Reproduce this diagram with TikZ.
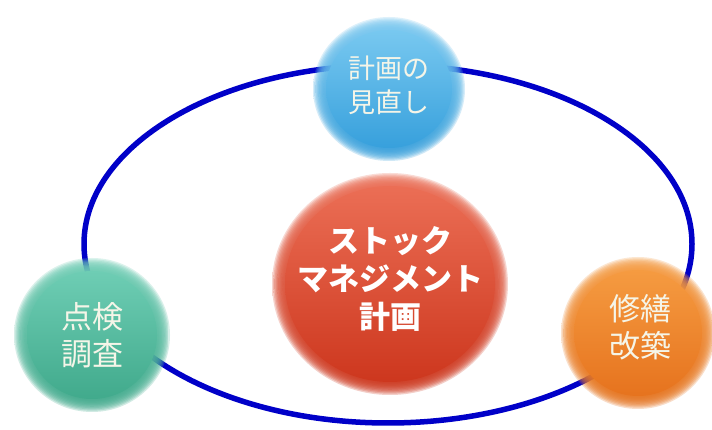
\documentclass[tikz,border=0pt]{standalone}
\usepackage{fontspec}
\newfontfamily\jp{Noto Sans CJK JP}
\definecolor{ringblue}{RGB}{0,0,200}
\definecolor{skyA}{RGB}{120,200,240}
\definecolor{skyB}{RGB}{55,160,220}
\definecolor{redA}{RGB}{235,110,85}
\definecolor{redB}{RGB}{205,55,30}
\definecolor{greenA}{RGB}{110,205,180}
\definecolor{greenB}{RGB}{65,170,140}
\definecolor{orangeA}{RGB}{245,155,65}
\definecolor{orangeB}{RGB}{230,115,30}
\definecolor{txtlight}{RGB}{245,245,232}
\tikzset{
  lbl/.style={align=center, text=txtlight, inner sep=0pt}
}
% soft-edged ball: center, x radius, y radius, top colour, bottom colour
\newcommand{\softball}[5]{%
  \foreach \k in {0,...,9} {%
    \shade[top color=#4, bottom color=#5, opacity=0.24] #1 ellipse [x radius=#2-\k*1.3, y radius=#3-\k*1.3];
  }%
  \shade[top color=#4, bottom color=#5] #1 ellipse [x radius=#2-13, y radius=#3-13];
}
\begin{document}
\begin{tikzpicture}[x=1pt,y=1pt]
\useasboundingbox (0,0) rectangle (712,430);
\fill[white] (0,0) rectangle (712,430);
% ring
\draw[ringblue, line width=5.5pt] (388,186) ellipse [x radius=304, y radius=179];
% balls
\softball{(389,341)}{76}{72}{skyA}{skyB}
\softball{(390,146)}{118}{111}{redA}{redB}
\softball{(92,95)}{78}{77}{greenA}{greenB}
\softball{(638,97)}{77}{76}{orangeA}{orangeB}
% labels
\node[lbl, font={\jp\fontsize{27}{34}\selectfont}] (top) at (389,345) {計画の\\見直し};
\node[lbl, text=white, font={\jp\bfseries\fontsize{31}{38}\selectfont}] (mid) at (390,151) {ストック\\マネジメント\\計画};
\node[lbl, font={\jp\fontsize{31}{37}\selectfont}] (left) at (92,95) {点検\\調査};
\node[lbl, font={\jp\fontsize{31}{37}\selectfont}] (right) at (640,103) {修繕\\改築};
\end{tikzpicture}
\end{document}
